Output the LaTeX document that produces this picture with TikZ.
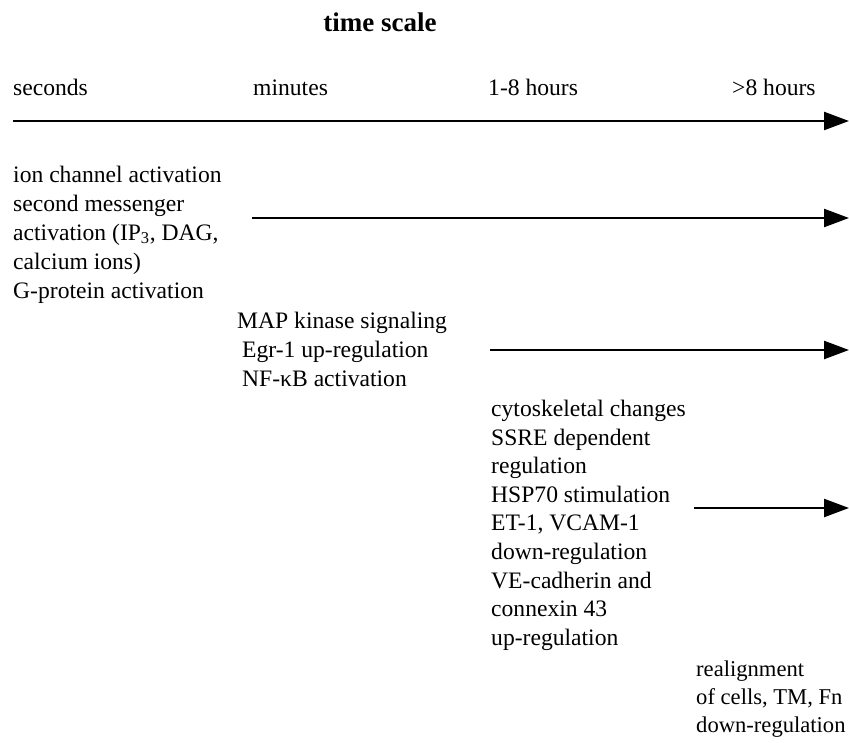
\documentclass[tikz,border=0pt]{standalone}
\usepackage{fontspec}
\setmainfont{Liberation Serif}
\usetikzlibrary{arrows.meta}
\begin{document}
\begin{tikzpicture}[x=1pt,y=-1pt,
  txt/.style={anchor=base west,inner sep=0pt,font=\fontsize{23.6}{29}\selectfont},
  txts/.style={txt,font=\fontsize{22.6}{28}\selectfont},
  ttl/.style={anchor=base,inner sep=0pt,font=\fontsize{27}{32}\selectfont\bfseries},
  arr/.style={line width=2.4pt,-{Triangle[length=25pt,width=18pt]}}]
\useasboundingbox (0,0) rectangle (849,742);
\node[ttl] (title) at (380,31) {time scale};
% header
\node[txt] (h1) at (13,95) {seconds};
\node[txt] (h2) at (253,95) {minutes};
\node[txt] (h3) at (488,95) {1-8 hours};
\node[txt] (h4) at (732,95) {>8 hours};
\coordinate (a0s) at (13,121);
\coordinate (a0e) at (849,121);
\draw[arr] (a0s) -- (a0e);
% block 1
\foreach \t [count=\i] in {ion channel activation,second messenger,{activation (IP\textsubscript{3}, DAG,},calcium ions),G-protein activation}
  \node[txt] (b1-\i) at (13,{182+29*(\i-1)}) {\t};
\coordinate (a1s) at (252,218);
\coordinate (a1e) at (849,218);
\draw[arr] (a1s) -- (a1e);
% block 2
\node[txt] (b2-1) at (237,328) {MAP kinase signaling};
\node[txt] (b2-2) at (242,357) {Egr-1 up-regulation};
\node[txt] (b2-3) at (242,386) {NF-κB activation};
\coordinate (a2s) at (490,350);
\coordinate (a2e) at (849,350);
\draw[arr] (a2s) -- (a2e);
% block 3
\foreach \t [count=\i] in {cytoskeletal changes,SSRE dependent,regulation,HSP70 stimulation,{ET-1, VCAM-1},down-regulation,VE-cadherin and,connexin 43,up-regulation}
  \node[txt] (b3-\i) at (491,{416.5+28.6*(\i-1)}) {\t};
\coordinate (a3s) at (694,508);
\coordinate (a3e) at (849,508);
\draw[arr] (a3s) -- (a3e);
% block 4
\foreach \t [count=\i] in {realignment,{of cells, TM, Fn},down-regulation}
  \node[txts] (b4-\i) at (696,{676+28*(\i-1)}) {\t};
\end{tikzpicture}
\end{document}
